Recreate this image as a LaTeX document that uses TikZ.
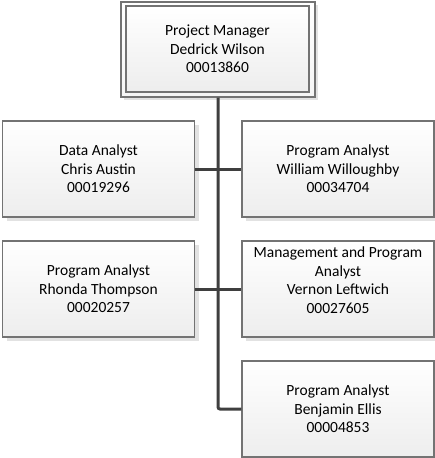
\documentclass[tikz,border=0pt]{standalone}
\usepackage{fontspec}
\setmainfont{Carlito}
\usetikzlibrary{shadows}
\definecolor{boxgray}{HTML}{737373}
\definecolor{conngray}{HTML}{3F3F3F}
\definecolor{shadowgray}{HTML}{E2E2E2}
\begin{document}
\begin{tikzpicture}[x=1pt,y=-1pt,
  boxbase/.style={draw=boxgray, line width=1.1pt, top color=white, bottom color=gray!14,
    inner sep=0pt, align=center, font=\fontsize{15.5}{18.5}\selectfont},
  box/.style={boxbase, minimum width=192pt, minimum height=96pt,
    drop shadow={shadow xshift=4pt, shadow yshift=-4pt, fill=shadowgray, opacity=1}},
  txt/.style={inner sep=0pt, align=center, font=\fontsize{15.5}{18.5}\selectfont},
  conn/.style={draw=conngray, line width=3pt}
]
\useasboundingbox (0,0) rectangle (435,458);
% top box (double border)
\node[boxbase, minimum width=194pt, minimum height=95pt, top color=white, bottom color=gray!8,
  drop shadow={shadow xshift=3pt, shadow yshift=-3pt, fill=shadowgray, opacity=1}] (pm) at (218,49.5) {};
\node[boxbase, minimum width=183pt, minimum height=86pt] (pmin) at (217.5,49) {Project Manager\\Dedrick Wilson\\00013860};
% staff boxes
\node[box] (da) at (98.5,169) {Data Analyst\\Chris Austin\\00019296};
\node[box] (wa) at (338,169) {Program Analyst\\William Willoughby\\00034704};
\node[box] (rt) at (98.5,289) {Program Analyst\\Rhonda Thompson\\00020257};
\node[box] (vl) at (338,289) {};
\node[txt] (vltext) at (338,280) {Management and Program\\Analyst\\Vernon Leftwich\\00027605};
\node[box] (be) at (338,409) {Program Analyst\\Benjamin Ellis\\00004853};
% connectors
\draw[conn, rounded corners=2pt] (pm.south) |- (be.west);
\draw[conn] (da.east) -- (wa.west);
\draw[conn] (rt.east) -- (vl.west);
\end{tikzpicture}
\end{document}
